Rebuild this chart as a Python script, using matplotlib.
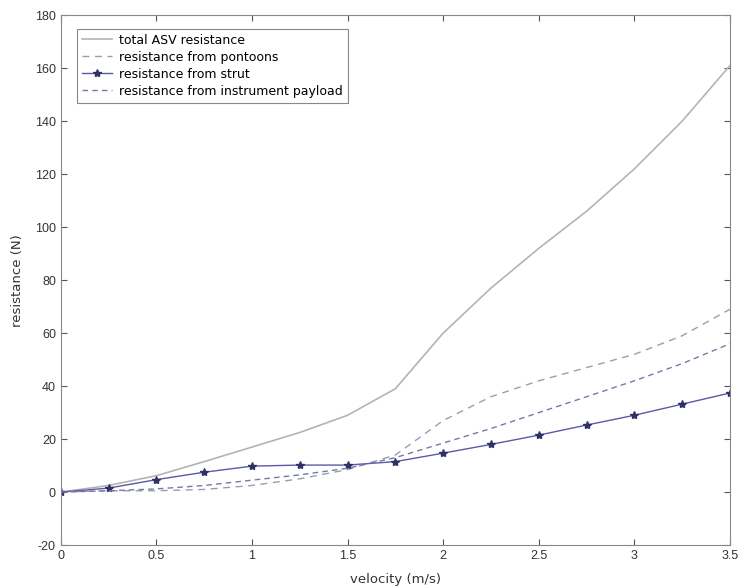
import numpy as np
import matplotlib
matplotlib.use("Agg")
import matplotlib.pyplot as plt

plt.rcParams['font.family'] = ['DejaVu Sans']
plt.rcParams['axes.unicode_minus'] = False

# velocity samples (m/s)
velocity = [0, 0.25, 0.5, 0.75, 1.0, 1.25, 1.5, 1.75, 2.0, 2.25, 2.5, 2.75, 3.0, 3.25, 3.5]

# resistance values (N)
total = [0, 2.5, 6.2, 11.5, 17, 22.5, 29, 39, 60, 77, 92, 106, 122, 140, 161]
pontoons = [0, 0.5, 0.5, 1.0, 2.5, 5.0, 8.5, 14, 27, 36, 42, 47, 52, 59, 69]
strut = [0, 1.5, 4.7, 7.5, 9.8, 10.2, 10.2, 11.5, 14.7, 18, 21.5, 25.3, 29, 33.2, 37.4]
payload = [0, 0.5, 1.2, 2.5, 4.5, 6.5, 9.0, 13, 18.5, 24, 30, 36, 42, 48.5, 56]

fig = plt.figure(figsize=(7.41, 5.88), dpi=100)
ax = fig.add_axes([0.082, 0.073, 0.903, 0.901])

ax.plot(velocity, total, color='#b4b4b4', lw=1.2, label='total ASV resistance')
ax.plot(velocity, pontoons, color='#9c9cae', lw=1.0, ls=(0, (5, 4)),
        label='resistance from pontoons')
ax.plot(velocity, strut, color='#5a5aa8', lw=1.0, marker='*', ms=6,
        mfc='#303066', mec='#303066', label='resistance from strut')
ax.plot(velocity, payload, color='#7878a8', lw=1.0, ls=(0, (4, 3)),
        label='resistance from instrument payload')

ax.set_xlim(0, 3.5)
ax.set_ylim(-20, 180)
ax.set_xticks(np.arange(0, 3.51, 0.5))
ax.set_xticklabels(['0', '0.5', '1', '1.5', '2', '2.5', '3', '3.5'])
ax.set_yticks(np.arange(-20, 181, 20))
ax.set_xlabel('velocity (m/s)', fontsize=9.5, color='#333333', labelpad=8)
ax.set_ylabel('resistance (N)', fontsize=9.5, color='#333333', labelpad=8)

ax.tick_params(direction='in', top=True, right=True, labelsize=8.5,
               colors='#555555', labelcolor='#333333', length=4)
for t in ax.get_xticklabels() + ax.get_yticklabels():
    t.set_family('Liberation Sans')
    t.set_fontsize(9)
for s in ax.spines.values():
    s.set_color('#888888')

leg = ax.legend(loc='upper left', bbox_to_anchor=(0.024, 0.975), fontsize=9,
                fancybox=False, framealpha=1, edgecolor='#888888',
                handlelength=2.4, handletextpad=0.6, labelspacing=0.32,
                borderpad=0.4, borderaxespad=0.0)
leg.get_frame().set_linewidth(0.8)

fig.savefig('out.png', dpi=100)
